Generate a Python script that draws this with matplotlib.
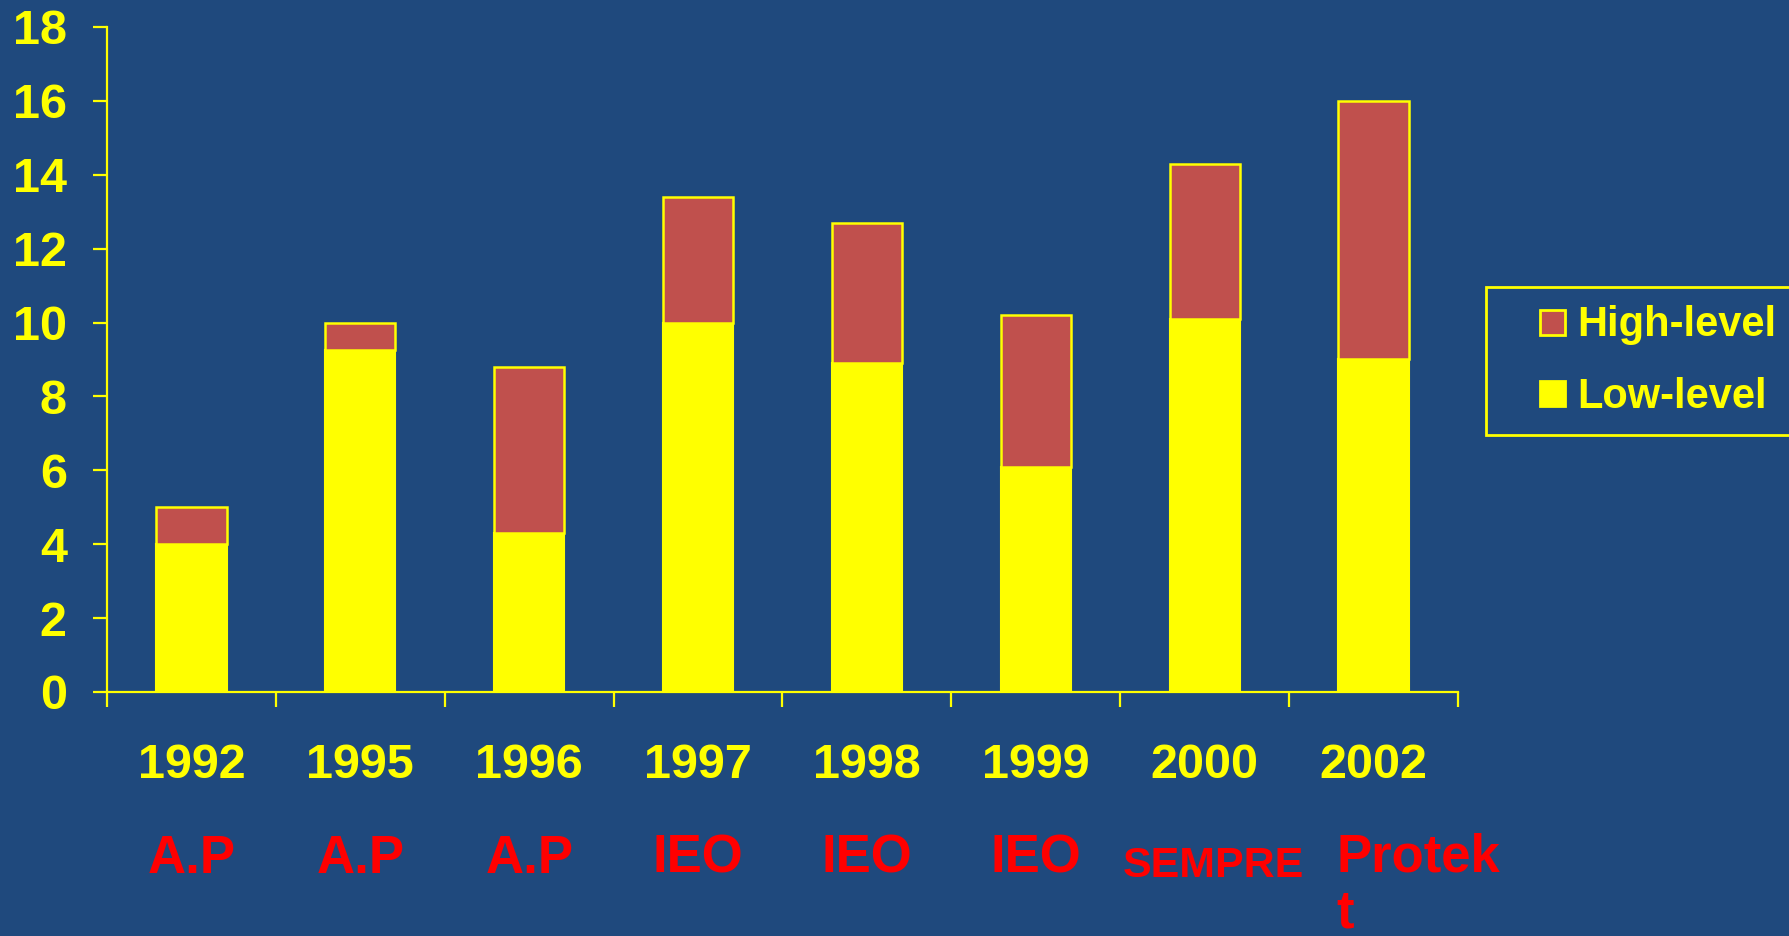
import matplotlib.pyplot as plt
from matplotlib.lines import Line2D
import numpy as np

# данные
years = ["1992", "1995", "1996", "1997", "1998", "1999", "2000", "2002"]
sources = ["A.P", "A.P", "A.P", "IEO", "IEO", "IEO", "SEMPRE", "Protek\nt"]
low_level = [4.0, 9.25, 4.3, 10.0, 8.9, 6.1, 10.1, 9.0]
high_level = [1.0, 0.75, 4.5, 3.4, 3.8, 4.1, 4.2, 7.0]

bg = "#1F497D"
yellow = "#FFFF00"
red_bar = "#C0504D"

plt.rcParams['font.family'] = ['Liberation Sans', 'DejaVu Sans']
plt.rcParams['font.weight'] = 'bold'

fig = plt.figure(figsize=(17.9, 9.36), dpi=100, facecolor=bg)
ax = fig.add_axes([0.0598, 0.2607, 0.7547, 0.7105])
ax.set_facecolor(bg)

x = np.arange(len(years))
ax.bar(x, low_level, width=0.415, color=yellow, edgecolor=yellow, linewidth=1.5)
ax.bar(x, high_level, width=0.415, bottom=low_level, color=red_bar,
       edgecolor=yellow, linewidth=1.8)

ax.set_xlim(-0.5, len(years) - 0.5)
ax.set_ylim(0, 18)
ax.set_yticks(np.arange(0, 19, 2))

for s in ["top", "right"]:
    ax.spines[s].set_visible(False)
for s in ["left", "bottom"]:
    ax.spines[s].set_color(yellow)
    ax.spines[s].set_linewidth(1.6)

ax.tick_params(axis='y', colors=yellow, direction='out', length=10, width=1.6,
               pad=19, labelsize=35)
ax.set_xticks(x)
ax.set_xticklabels(years)
ax.set_xticks(np.arange(-0.5, len(years), 1), minor=True)
ax.tick_params(axis='x', which='major', length=0, pad=37, labelsize=35, colors=yellow)
ax.tick_params(axis='x', which='minor', length=11, width=1.6, colors=yellow, direction='out')

# подписи источников
for i, src in enumerate(sources):
    if "\n" in src:
        ax.text(i - 0.22, -0.212, src, transform=ax.get_xaxis_transform(),
                ha='left', va='top', color='#FF0000', fontsize=38,
                fontweight='bold', linespacing=1.15)
    elif len(src) > 4:
        ax.text(i + 0.05, -0.262, src, transform=ax.get_xaxis_transform(),
                ha='center', va='center', color='#FF0000', fontsize=31,
                fontweight='bold')
    else:
        ax.text(i, -0.2505, src, transform=ax.get_xaxis_transform(),
                ha='center', va='center', color='#FF0000', fontsize=38,
                fontweight='bold')

handles = [
    Line2D([], [], marker='s', linestyle='none', markersize=18,
           markerfacecolor=red_bar, markeredgecolor=yellow, markeredgewidth=2),
    Line2D([], [], marker='s', linestyle='none', markersize=18,
           markerfacecolor=yellow, markeredgecolor=yellow, markeredgewidth=2),
]
leg = fig.legend(handles, ["High-level", "Low-level"], loc='upper left',
                 bbox_to_anchor=(0.830, 0.6934), borderaxespad=0,
                 fontsize=30, frameon=True, fancybox=False, framealpha=1,
                 facecolor=bg, edgecolor=yellow, handlelength=2.3,
                 handletextpad=-0.55, labelspacing=0.75, borderpad=0.44,
                 labelcolor=yellow)
leg.get_frame().set_linewidth(2)

plt.savefig('out.png', dpi=100, facecolor=bg)
